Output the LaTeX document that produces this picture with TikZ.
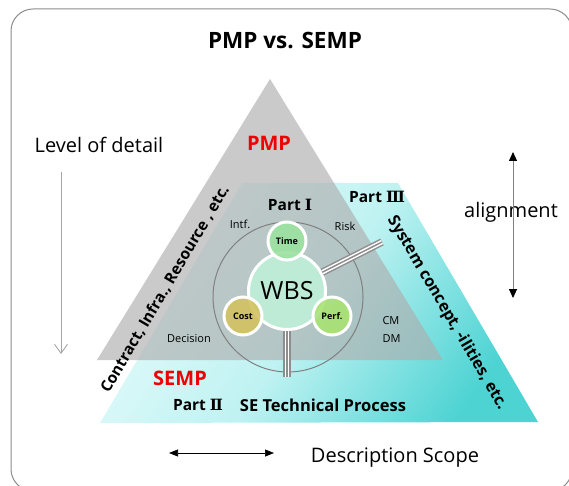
\documentclass[tikz,border=0pt]{standalone}
\usepackage{fontspec}
\setmainfont{Open Sans}
\newfontfamily\numfont{DejaVu Serif}
\usetikzlibrary{arrows.meta}
\definecolor{framegrey}{HTML}{8C8C8C}
\definecolor{pmpgrey}{HTML}{AEAEAE}
\definecolor{cyanlight}{HTML}{E6FBFB}
\definecolor{cyanmid}{HTML}{BFF2F2}
\definecolor{cyandark}{HTML}{4ED3D3}
\definecolor{ringgrey}{HTML}{808080}
\definecolor{linegrey}{HTML}{8E8E8E}
\definecolor{wbsfill}{HTML}{BDEBD6}
\definecolor{timefill}{HTML}{9CE2A0}
\definecolor{costfill}{HTML}{D3C260}
\definecolor{perffill}{HTML}{A9E373}
\definecolor{planred}{HTML}{F00000}
\tikzset{
  bubble/.style={circle, draw=white, line width=3pt, inner sep=0pt, font=\bfseries\fontsize{9}{10}\selectfont},
  tripleline/.style={draw=linegrey, line width=7.5pt,
    postaction={draw=white, line width=4.5pt},
    postaction={draw=linegrey, line width=1.5pt}},
  smalllabel/.style={font=\fontsize{11}{13}\selectfont},
  partlabel/.style={font=\bfseries\fontsize{15.5}{18}\selectfont},
  planlabel/.style={text=planred, font=\bfseries\fontsize{20}{24}\selectfont},
  sidelabel/.style={font=\fontsize{20}{24}\selectfont},
  edgelabel/.style={font=\bfseries\fontsize{15.5}{18}\selectfont},
}
\newcommand{\rn}[1]{{\numfont #1}}
\begin{document}
\begin{tikzpicture}[x=1pt,y=-1pt]
\useasboundingbox (0,0) rectangle (569,486);
\clip (0,0) rectangle (569,486);

% outer frame
\draw[framegrey, line width=1pt, rounded corners=22pt] (11,9) rectangle (572,491);

% SEMP trapezoid with its gradient
\shade[top color=cyanlight, bottom color=cyandark, middle color=cyanmid, shading angle=55]
  (242,183) -- (398,183) -- (538,422) -- (100,423) -- cycle;

% PMP triangle, laid translucently over the trapezoid
\fill[pmpgrey, fill opacity=0.65] (270,79) -- (443,360) -- (97,360) -- cycle;

% title
\node[font=\bfseries\fontsize{22.5}{26}\selectfont] (title) at (285,41) {PMP vs. SEMP};

% plan names and parts
\node[planlabel] (pmp) at (269,143) {PMP};
\node[planlabel] (semp) at (180,378) {SEMP};
\node[partlabel] (part1) at (290,205) {Part \rn{Ⅰ}};
\node[partlabel] (part3) at (377,197) {Part \rn{Ⅲ}};
\node[partlabel] (part2) at (198,405) {Part \rn{Ⅱ}};
\node[partlabel, font=\bfseries\fontsize{16.5}{19}\selectfont] (setp) at (323,405) {SE Technical Process};

% labels along the slanted edges
\node[edgelabel, rotate=59.4] (contract) at (165,289) {Contract, Infra., Resource , etc.};
\node[edgelabel, font=\bfseries\fontsize{16}{19}\selectfont, rotate=-59.6] (sysconcept) at (447,313) {System concept, -ilities, etc.};

% small labels around the ring
\node[smalllabel] (intf) at (240,224) {Intf.};
\node[smalllabel] (risk) at (345,226) {Risk};
\node[smalllabel] (decision) at (189,339) {Decision};
\node[smalllabel, anchor=west] (cm) at (379,321) {CM};
\node[smalllabel, anchor=west] (dm) at (379,339) {DM};

% ring and WBS bubbles
\node[circle, draw=ringgrey, line width=1pt, minimum size=150pt, inner sep=0pt] (ring) at (288,297) {};
\node[bubble, fill=wbsfill, minimum size=77pt, font=\fontsize{25}{28}\selectfont] (wbs) at (287,291) {WBS};
\node[bubble, fill=timefill, fill opacity=0.9, text opacity=1, minimum size=38pt] (time) at (287,241) {Time};
\node[bubble, fill=costfill, fill opacity=0.9, text opacity=1, minimum size=38pt] (cost) at (243,316) {Cost};
\node[bubble, fill=perffill, fill opacity=0.9, text opacity=1, minimum size=38pt] (perf) at (332,316) {Perf.};

% links from the WBS to the other parts
\coordinate (toPart3) at (382,242);
\coordinate (toPart2) at (287,377);
\draw[tripleline] (wbs.28) -- (toPart3);
\draw[tripleline] (wbs.south) -- (toPart2);

% side annotations
\node[sidelabel] (level) at (99,145) {Level of detail};
\coordinate (levelTop) at (61,172);
\coordinate (levelBot) at (61,354);
\draw[gray!70, line width=0.9pt, -{Straight Barb[length=9pt,width=13pt,line width=0.9pt]}] (levelTop) -- (levelBot);

\node[sidelabel] (align) at (511,212) {alignment};
\coordinate (alignTop) at (513,152);
\coordinate (alignBot) at (513,298);
\draw[gray, line width=0.9pt, {Triangle[length=9pt,width=8pt,color=black]}-{Triangle[length=9pt,width=8pt,color=black]}] (alignTop) -- (alignBot);

\node[sidelabel] (scope) at (395,458) {Description Scope};
\coordinate (scopeL) at (169,453);
\coordinate (scopeR) at (274,453);
\draw[black, line width=0.7pt, {Triangle[length=9pt,width=7pt]}-{Triangle[length=9pt,width=7pt]}] (scopeL) -- (scopeR);
\end{tikzpicture}
\end{document}
